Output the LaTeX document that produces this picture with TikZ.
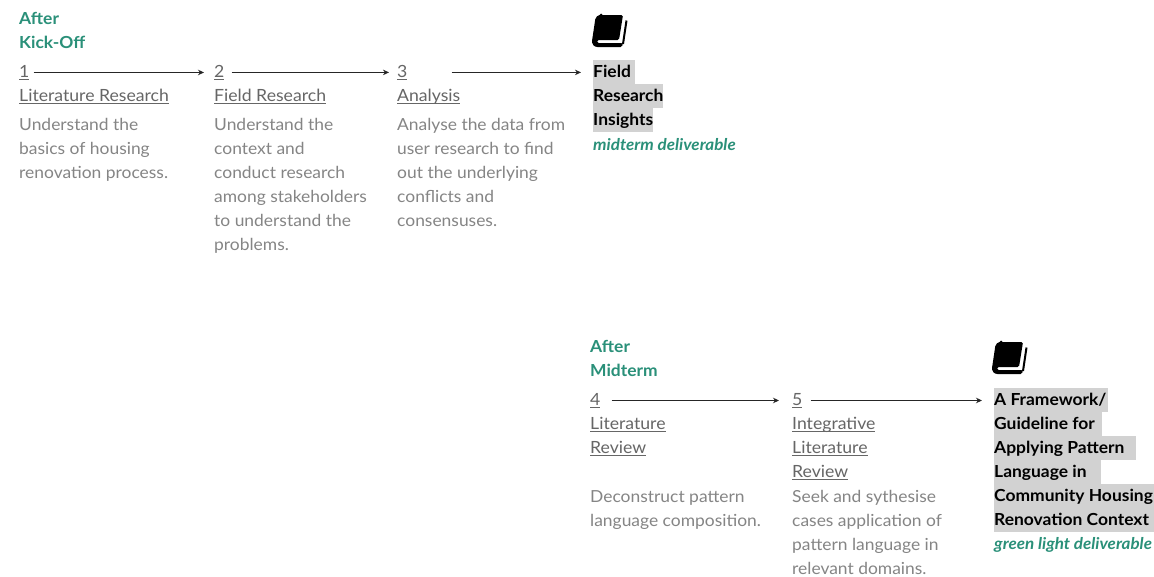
\documentclass[tikz,border=0pt]{standalone}
\usepackage{fontspec}
\setmainfont{Lato}[FakeStretch=1.05]
\usetikzlibrary{arrows.meta}
\definecolor{grn}{HTML}{2A9079}
\definecolor{desc}{HTML}{858585}
\definecolor{ttl}{HTML}{666666}
\definecolor{hl}{HTML}{D2D2D2}
\newcommand{\ulx}[1]{\setbox0\hbox{#1}\rlap{\rule[-3pt]{\wd0}{0.7pt}}\box0}
\tikzset{
  x=1pt,y=-1pt,
  base/.style={anchor=base west,inner sep=0pt,font=\fontsize{16.8pt}{24pt}\selectfont},
  head/.style={base,text=grn,font=\fontsize{16.6pt}{24pt}\selectfont\bfseries},
  num/.style={base,text=ttl},
  ttlx/.style={base,text=ttl},
  dsc/.style={base,text=desc,align=left,font=\fontsize{16.6pt}{24pt}\selectfont},
  hlx/.style={anchor=base west,fill=hl,text=black,font=\fontsize{16.6pt}{24pt}\selectfont\bfseries,inner xsep=0pt,inner ysep=0pt,text height=17pt,text depth=6.8pt},
  deliv/.style={base,text=grn,font=\fontsize{16.2pt}{16pt}\selectfont\bfseries\itshape},
  arr/.style={draw=black!85,line width=1.2pt,-{Stealth[length=6pt,width=5.5pt]}},
  bookicon/.pic={
    \fill[black,rounded corners=1.5pt] (9,0) -- (31,0) -- (27,25) -- (8,25) .. controls (4.5,25) and (4.5,28) .. (8,28) -- (31,28) -- (30,32) -- (7,32) .. controls (2,32) and (0,29) .. (0,26) -- (3,6) .. controls (3.5,2) and (6,0) .. (9,0) -- cycle;
    \draw[black,line width=2pt] (34.5,5.5) -- (31,29);
  }
}
\begin{document}
\begin{tikzpicture}
\useasboundingbox (0,0) rectangle (1154,576);
\fill[white] (0,0) rectangle (1154,576);
% first group
\node[head] (h1a) at (19,24) {After};
\node[head] (h1b) at (19,48) {Kick-Off};
\node[num] (n1) at (19,77) {\ulx{1}};
\node[num] (n2) at (214,77) {\ulx{2}};
\node[num] (n3) at (397,77) {\ulx{3}};
\node[ttlx] (t1) at (19,101) {\ulx{Literature Research}};
\node[ttlx] (t2) at (214,101) {\ulx{Field Research}};
\node[ttlx] (t3) at (397,101) {\ulx{Analysis}};
\node[dsc] (d1a) at (19,130) {Understand the};
\node[dsc] (d1b) at (19,154) {basics of housing};
\node[dsc] (d1c) at (19,178) {renovation process.};
\node[dsc] (d2a) at (214,130) {Understand the};
\node[dsc] (d2b) at (214,154) {context and};
\node[dsc] (d2c) at (214,178) {conduct research};
\node[dsc] (d2d) at (214,202) {among stakeholders};
\node[dsc] (d2e) at (214,226) {to understand the};
\node[dsc] (d2f) at (214,250) {problems.};
\node[dsc] (d3a) at (397,130) {Analyse the data from};
\node[dsc] (d3b) at (397,154) {user research to find};
\node[dsc] (d3c) at (397,178) {out the underlying};
\node[dsc] (d3d) at (397,202) {conflicts and};
\node[dsc] (d3e) at (397,226) {consensuses.};
\pic at (592,15) {bookicon};
\node[hlx] (f1) at (593,77) {Field\kern4pt};
\node[hlx] (f2) at (593,101) {Research};
\node[hlx] (f3) at (593,125) {Insights};
\node[deliv] (md) at (593,150) {midterm deliverable};
\draw[arr,shorten <=4pt,shorten >=10pt] (n1.east) -- (n2.west |- n1.east);
\draw[arr,shorten <=7pt,shorten >=8pt] (n2.east) -- (n3.west |- n2.east);
\draw[arr,shorten <=44pt,shorten >=12pt] (n3.east) -- (f1.west |- n3.east);
% second group
\node[head] (h2a) at (590,352) {After};
\node[head] (h2b) at (590,376) {Midterm};
\node[num] (n4) at (590,405) {\ulx{4}};
\node[num] (n5) at (792,405) {\ulx{5}};
\node[ttlx] (t4a) at (590,429) {\ulx{Literature}};
\node[ttlx] (t4b) at (590,453) {\ulx{Review}};
\node[ttlx] (t5a) at (792,429) {\ulx{Integrative}};
\node[ttlx] (t5b) at (792,453) {\ulx{Literature}};
\node[ttlx] (t5c) at (792,477) {\ulx{Review}};
\node[dsc] (d4a) at (590,502) {Deconstruct pattern};
\node[dsc] (d4b) at (590,526) {language composition.};
\node[dsc] (d5a) at (792,502) {Seek and sythesise};
\node[dsc] (d5b) at (792,526) {cases application of};
\node[dsc] (d5c) at (792,550) {pattern language in};
\node[dsc] (d5d) at (792,574) {relevant domains.};
\pic at (992,342) {bookicon};
\node[hlx] (g1) at (994,405) {A Framework/\kern1pt};
\node[hlx] (g2) at (994,429) {Guideline for\kern7pt};
\node[hlx] (g3) at (994,453) {Applying Pattern\kern12pt};
\node[hlx] (g4) at (994,477) {Language in\kern14pt};
\node[hlx] (g5) at (994,501) {Community Housing\kern1pt};
\node[hlx] (g6) at (994,525) {Renovation Context\kern5pt};
\node[deliv] (gd) at (994,549) {green light deliverable};
\draw[arr,shorten <=11pt,shorten >=13pt] (n4.east) -- (n5.west |- n4.east);
\draw[arr,shorten <=8pt,shorten >=12pt] (n5.east) -- (g1.west |- n5.east);
\end{tikzpicture}
\end{document}
